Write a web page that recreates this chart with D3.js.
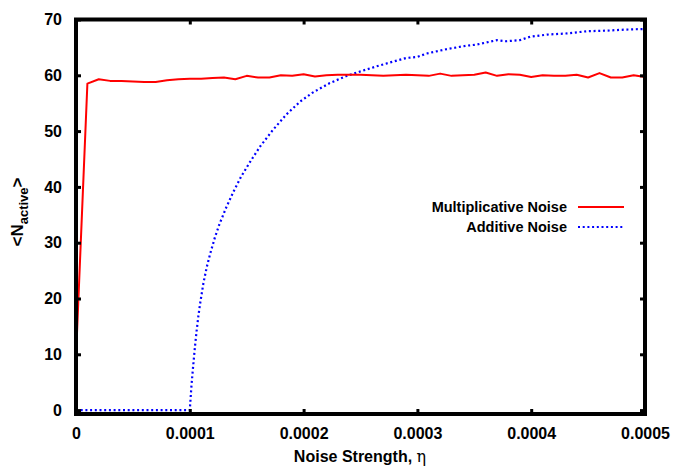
<!DOCTYPE html>
<html>
<head>
<meta charset="utf-8">
<script src="https://cdn.jsdelivr.net/npm/d3@7"></script>
<style>
  html, body { margin: 0; padding: 0; background: #fff; }
  svg { display: block; }
  text { font-family: "Liberation Sans", Arial, Helvetica, sans-serif; font-weight: bold; fill: #000; }
</style>
</head>
<body>
<svg id="chart" width="674" height="466"></svg>
<script>
// ---- data (eta in units of 1e-5) ----
const multEta = [0,1,2,3,4,5,6,7,8,9,10,11,12,13,14,15,16,17,18,19,20,21,22,23,24,25,26,27,28,29,30,31,32,33,34,35,36,37,38,39,40,41,42,43,44,45,46,47,48,49,50];
const multVal = [9.5,58.5,59.3,59.0,59.0,58.9,58.8,58.8,59.1,59.3,59.4,59.4,59.5,59.6,59.3,59.9,59.6,59.6,60.0,59.9,60.2,59.8,60.0,60.1,60.1,60.1,60.0,59.9,60.0,60.1,60.0,59.9,60.3,59.9,60.0,60.1,60.5,59.9,60.2,60.1,59.7,60.0,59.9,59.9,60.1,59.6,60.4,59.6,59.6,60.0,59.7];

const addEta = [0,5,10,10.15,10.3,10.45,10.6,10.75,10.9,11.2,11.5,11.8,12.2,12.6,13.2,13.8,14.5,15.3,16.2,17.3,18.5,19.7,20.8,22.3,23.8,25,26.4,27.6,29,30,30.8,32.6,34.3,35.2,37,37.8,39,39.9,41.4,43.1,44.9,46.6,48.4,50];
const addVal = [0,0,0,4.5,8,11.3,14.2,16.8,19.0,22.8,25.7,28.1,30.9,33.3,36.3,39.0,41.8,44.5,47.3,50.2,53.0,55.3,56.9,58.6,59.9,60.7,61.6,62.3,63.1,63.3,63.9,64.7,65.3,65.5,66.3,66.1,66.3,66.9,67.3,67.5,67.9,68.0,68.2,68.3];

const xTicks = [0, 0.0001, 0.0002, 0.0003, 0.0004, 0.0005];
const yTicks = [0, 10, 20, 30, 40, 50, 60, 70];
const seriesNames = ["Multiplicative Noise", "Additive Noise"];
const seriesColors = ["#ff0000", "#0000ff"];

// ---- layout ----
const svg = d3.select("#chart");
const L = 76, R = 645, T = 19.5, B = 414;
const x = d3.scaleLinear().domain([0, 0.0005]).range([L, R]);
const y = d3.scaleLinear().domain([-0.7, 70]).range([B, T]);

const multData = multEta.map((e, i) => ({x: e * 1e-5, y: multVal[i]}));
const addData = addEta.map((e, i) => ({x: e * 1e-5, y: addVal[i]}));

const line = d3.line().x(d => x(d.x)).y(d => y(d.y));

// series
svg.append("path").datum(addData)
  .attr("d", line).attr("fill", "none")
  .attr("stroke", seriesColors[1]).attr("stroke-width", 2.2)
  .attr("stroke-dasharray", "2,2.7");
svg.append("path").datum(multData)
  .attr("d", line).attr("fill", "none")
  .attr("stroke", seriesColors[0]).attr("stroke-width", 2)
  .attr("stroke-linejoin", "round");

// axes (ticks inward, mirrored)
const fmtX = d => d === 0 ? "0" : d.toFixed(4);
function styleAxis(g) {
  g.select(".domain").remove();
  g.selectAll(".tick line").attr("stroke", "#000").attr("stroke-width", 3);
  g.selectAll(".tick text").style("font-size", "16px").style("font-weight", "bold")
    .style("font-family", '"Liberation Sans", Arial, sans-serif');
}
const tickLen = 5;
svg.append("g").attr("transform", `translate(0,${B})`)
  .call(d3.axisBottom(x).tickValues(xTicks).tickFormat(fmtX).tickSizeInner(-tickLen).tickSizeOuter(0).tickPadding(14))
  .call(styleAxis);
svg.append("g").attr("transform", `translate(0,${T})`)
  .call(d3.axisTop(x).tickValues(xTicks).tickFormat("").tickSizeInner(-tickLen).tickSizeOuter(0))
  .call(styleAxis);
svg.append("g").attr("transform", `translate(${L},0)`)
  .call(d3.axisLeft(y).tickValues(yTicks).tickFormat(d3.format("d")).tickSizeInner(-tickLen).tickSizeOuter(0).tickPadding(14))
  .call(styleAxis);
svg.append("g").attr("transform", `translate(${R},0)`)
  .call(d3.axisRight(y).tickValues(yTicks).tickFormat("").tickSizeInner(-tickLen).tickSizeOuter(0))
  .call(styleAxis);

// frame
svg.append("rect").attr("x", L).attr("y", T).attr("width", R - L).attr("height", B - T)
  .attr("fill", "none").attr("stroke", "#000").attr("stroke-width", 4);

// axis titles
const xt = svg.append("text").attr("x", 360).attr("y", 462).attr("text-anchor", "middle")
  .style("font-size", "16px");
xt.append("tspan").text("Noise Strength, ");
xt.append("tspan").text("η").style("font-family", '"DejaVu Serif", "Liberation Serif", serif')
  .style("font-weight", "normal").style("font-size", "16px");

const yt = svg.append("text").attr("transform", "translate(23,212) rotate(-90)")
  .attr("text-anchor", "middle").style("font-size", "17px");
yt.append("tspan").text("<N");
yt.append("tspan").text("active").attr("dy", 5).style("font-size", "13px");
yt.append("tspan").text(">").attr("dy", -5);

// legend
const legY = [207, 227];
seriesNames.forEach((name, i) => {
  svg.append("text").attr("x", 567).attr("y", legY[i]).attr("dy", "0.35em")
    .attr("text-anchor", "end").style("font-size", "14.5px").text(name);
  const ln = svg.append("line").attr("x1", 578).attr("x2", 624).attr("y1", legY[i]).attr("y2", legY[i])
    .attr("stroke", seriesColors[i]).attr("stroke-width", i === 0 ? 2 : 2.2);
  if (i === 1) ln.attr("stroke-dasharray", "2,2.7");
});
</script>
</body>
</html>
